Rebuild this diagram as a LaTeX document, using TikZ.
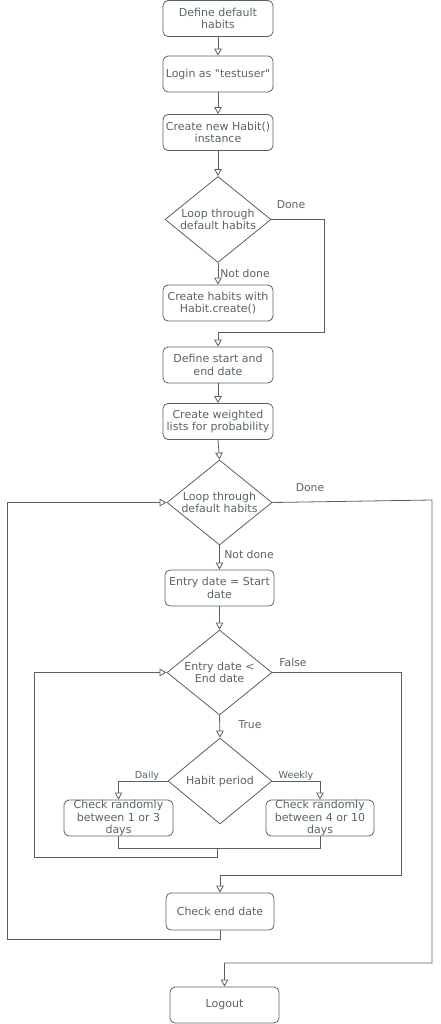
\documentclass[tikz,border=0pt]{standalone}
\usepackage{fontspec}
\newfontfamily\dv{DejaVu Sans}
\usetikzlibrary{shapes.geometric,arrows.meta}
\definecolor{ln}{RGB}{84,98,100}
\definecolor{tx}{RGB}{88,100,102}
\begin{document}
\begin{tikzpicture}[x=1pt,y=-1pt,
 box/.style={draw=ln, rounded corners=5pt, minimum width=110pt, minimum height=36pt, inner sep=0pt, align=center, font=\dv\fontsize{11}{12.3}\selectfont, text=tx, line width=0.8pt},
 dec/.style={diamond, draw=ln, aspect=1.24, minimum width=106pt, minimum height=86pt, inner sep=0pt, align=center, font=\dv\fontsize{11}{12.3}\selectfont, text=tx, line width=0.8pt},
 arr/.style={draw=ln, line width=0.8pt, -{Triangle[open,length=7pt,width=7.5pt]}},
 cn/.style={draw=ln, line width=0.8pt},
 lab/.style={text=tx, font=\dv\fontsize{10.8}{12}\selectfont, inner sep=0pt},
 labs/.style={text=tx, font=\dv\fontsize{9.6}{11}\selectfont, inner sep=0pt}
]
\useasboundingbox (0,0) rectangle (440,1024);

\node[box] (b1) at (218,18.5) {Define default\\habits};
\node[box] (b2) at (218,74) {Login as "testuser"};
\node[box] (b3) at (218,132.5) {Create new Habit()\\instance};
\node[dec] (d1) at (218,219.5) {Loop through\\default habits};
\node[box] (b4) at (218,303) {Create habits with\\Habit.create()};
\node[box] (b5) at (218,365) {Define start and\\end date};
\node[box] (b6) at (218,421.5) {Create weighted\\lists for probability};
\node[dec, minimum width=105pt, minimum height=85pt] (d2) at (219.5,502.5) {Loop through\\default habits};
\node[box, minimum width=109pt] (b7) at (219.5,588) {Entry date = Start\\date};
\node[dec, minimum width=105pt, minimum height=85pt] (d3) at (219.5,672.5) {Entry date <\\End date};
\node[dec, minimum width=104pt, minimum height=86pt] (d4) at (220,781) {Habit period};
\node[box, minimum width=109pt] (b8) at (118.5,818) {Check randomly\\between 1 or 3\\days};
\node[box, minimum width=108pt] (b9) at (320,818) {Check randomly\\between 4 or 10\\days};
\node[box, minimum width=108pt, minimum height=37pt] (b10) at (220,911.5) {Check end date};
\node[box, minimum width=109pt] (b11) at (224.5,1005) {Logout};

\coordinate (c1) at (324,332);
\coordinate (c2) at (432,500);
\coordinate (c3) at (432,963);
\coordinate (m) at (217,848);
\coordinate (c4) at (217,857);
\coordinate (c5) at (34,857);
\coordinate (c6) at (401,875);
\coordinate (c7) at (7,939);

\draw[arr] (b1.south) -- (b2.north);
\draw[arr] (b2.south) -- (b3.north);
\draw[arr] (b3.south) -- (d1.north);
\draw[arr] (d1.south) -- (b4.north);
\draw[arr] (d1.east) -| (c1) -| (b5.north);
\draw[arr] (b5.south) -- (b6.north);
\draw[arr] (b6.south) -- (d2.north);
\draw[arr] (d2.east) -- (c2) -- (c3) -| (b11.north);
\draw[arr] (d2.south) -- (b7.north);
\draw[arr] (b7.south) -- (d3.north);
\draw[arr] (d3.south) -- (d4.north);
\draw[arr] (d4.west) -| (b8.north);
\draw[arr] (d4.east) -| (b9.north);
\draw[cn] (b8.south) |- (m) -| (b9.south);
\draw[arr] (m) -- (c4) -- (c5) |- (d3.west);
\draw[arr] (d3.east) -| (c6) -| (b10.north);
\draw[arr] (b10.south) |- (c7) |- (d2.west);

\node[lab] (l1) at (291,205) {Done};
\node[lab] (l2) at (245,273) {Not done};
\node[lab] (l3) at (310,488) {Done};
\node[lab] (l4) at (249,554) {Not done};
\node[lab] (l5) at (293,662) {False};
\node[lab] (l6) at (250,725) {True};
\node[labs] (l7) at (147,776) {Daily};
\node[labs] (l8) at (296,776) {Weekly};
\end{tikzpicture}
\end{document}
